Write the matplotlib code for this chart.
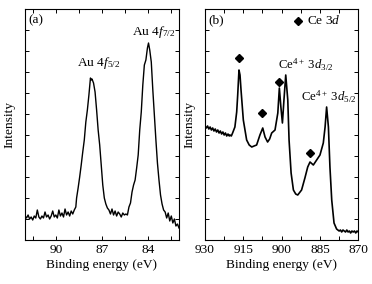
import matplotlib
matplotlib.use("Agg")
import matplotlib.pyplot as plt
from matplotlib.ticker import MultipleLocator, NullFormatter

plt.rcParams['font.family'] = ['Liberation Serif', 'DejaVu Serif']
plt.rcParams['mathtext.fontset'] = 'custom'
plt.rcParams['mathtext.rm'] = 'Liberation Serif'
plt.rcParams['mathtext.it'] = 'Liberation Serif:italic'
plt.rcParams['mathtext.bf'] = 'Liberation Serif:bold'
plt.rcParams['font.size'] = 9.6

# Panel (a): Au 4f
au_energy = [92.0, 91.9, 91.8, 91.7, 91.6, 91.5, 91.4, 91.3, 91.2, 91.1, 91.0, 90.9, 90.8, 90.7,
             90.6, 90.5, 90.4, 90.3, 90.2, 90.1, 90.0, 89.9, 89.8, 89.7, 89.6, 89.5, 89.4, 89.3,
             89.2, 89.1, 89.0, 88.9, 88.8, 88.7, 88.65, 88.55, 88.45, 88.35, 88.25, 88.15, 88.05,
             87.95, 87.85, 87.75, 87.7, 87.65, 87.55, 87.45, 87.35, 87.25, 87.15, 87.05, 86.95,
             86.85, 86.75, 86.65, 86.55, 86.45, 86.35, 86.25, 86.15, 86.05, 85.95, 85.85, 85.75,
             85.65, 85.55, 85.45, 85.35, 85.25, 85.15, 85.05, 84.95, 84.85, 84.75, 84.65, 84.55,
             84.45, 84.35, 84.25, 84.15, 84.05, 83.98, 83.9, 83.8, 83.7, 83.6, 83.5, 83.4, 83.3,
             83.2, 83.1, 83.0, 82.9, 82.8, 82.7, 82.6, 82.5, 82.4, 82.3, 82.2, 82.1, 82.0]
au_intensity = [24, 22, 25, 21, 23, 20, 24, 22, 30, 23, 21, 24, 22, 28, 23, 25, 21, 24, 29, 23,
                25, 22, 30, 24, 27, 23, 31, 25, 28, 24, 29, 26, 30, 33, 42, 52, 63, 75, 88, 100,
                118, 130, 145, 162, 160, 161, 157, 148, 130, 110, 95, 75, 55, 42, 36, 32, 30, 26,
                31, 25, 29, 24, 28, 26, 23, 27, 25, 26, 25, 33, 37, 48, 55, 60, 72, 85, 110, 128,
                155, 175, 180, 192, 197, 190, 178, 150, 125, 100, 77, 60, 45, 36, 30, 28, 22, 27,
                19, 24, 17, 21, 14, 16, 12]

# Panel (b): Ce 3d
ce_energy = [930.0, 929.5, 929.0, 928.5, 928.0, 927.5, 927.0, 926.5, 926.0, 925.5, 925.0, 924.5,
             924.0, 923.5, 923.0, 922.5, 922.0, 921.5, 921.0, 920.5, 920.2, 919.7, 919.2, 918.3,
             917.6, 917.2, 916.7, 916.3, 915.9, 915.0, 913.7, 912.7, 911.7, 910.8, 909.8, 908.5,
             907.4, 906.5, 905.5, 904.7, 903.9, 902.6, 901.5, 900.9, 900.3, 899.7, 899.1, 898.4,
             897.6, 897.1, 896.3, 895.4, 894.5, 893.7, 892.2, 890.9, 889.8, 888.9, 887.6, 886.3,
             885.0, 883.7, 883.0, 882.4, 881.7, 881.1, 880.4, 879.5, 878.5, 878.0, 877.5, 877.0,
             876.5, 876.0, 875.5, 875.0, 874.5, 874.0, 873.5, 873.0, 872.5, 872.0, 871.5, 871.0,
             870.5, 870.0]
ce_intensity = [114, 112, 114, 111, 113, 110, 112, 109, 111, 108, 110, 107, 109, 106, 108, 105,
                107, 104, 106, 104, 105, 104, 107, 113, 128, 145, 170, 165, 150, 120, 100, 95, 93,
                94, 95, 105, 112, 103, 98, 101, 107, 110, 127, 152, 133, 117, 140, 165, 140, 100,
                67, 50, 46, 45, 50, 62, 73, 78, 75, 80, 85, 97, 113, 133, 113, 73, 40, 17, 11, 10,
                9, 10, 8, 10, 9, 8, 10, 8, 9, 7, 9, 8, 9, 7, 9, 8]

ce_marker_energy = [916.7, 907.6, 901.0, 888.9]
ce_marker_intensity = [182, 127, 158, 87]

fig = plt.figure(figsize=(3.72, 2.84), dpi=100)
ax1 = fig.add_axes([25/372, 44/284, 154/372, 231/284])
ax2 = fig.add_axes([205/372, 44/284, 153.3/372, 231/284])

for ax in (ax1, ax2):
    ax.tick_params(which='both', direction='in', top=True, right=True, length=3, width=0.7,
                   labelsize=9.6, pad=3)
    ax.yaxis.set_major_locator(MultipleLocator(21))
    ax.yaxis.set_major_formatter(NullFormatter())
    ax.set_ylim(0, 231)
    for s in ax.spines.values():
        s.set_linewidth(0.8)
    ax.set_ylabel('Intensity', labelpad=4)
    ax.set_xlabel('Binding energy (eV)', labelpad=2)

ax1.plot(au_energy, au_intensity, color='black', lw=1.0)
ax1.set_xlim(92, 82)
ax1.xaxis.set_minor_locator(MultipleLocator(1.5))
ax1.set_xticks([90, 87, 84])
ax1.text(0.02, 0.95, '(a)', transform=ax1.transAxes, ha='left', va='center')
ax1.text(88.63, 177, r'Au 4$f_{5/2}$', ha='left', va='center')
ax1.text(85.03, 208, r'Au 4$f_{7/2}$', ha='left', va='center')

ax2.plot(ce_energy, ce_intensity, color='black', lw=1.2)
ax2.plot(ce_marker_energy, ce_marker_intensity, 'D', color='black', ms=4.5)
ax2.plot([893.5], [219], 'D', color='black', ms=4.5)
ax2.set_xlim(930, 870)
ax2.xaxis.set_major_locator(MultipleLocator(15))
ax2.xaxis.set_minor_locator(MultipleLocator(7.5))
ax2.text(0.02, 0.95, '(b)', transform=ax2.transAxes, ha='left', va='center')
ax2.text(890.2, 219, r'Ce 3$d$', ha='left', va='center')
ax2.text(901.5, 175, r'Ce$^{4+}$ 3$d_{3/2}$', ha='left', va='center', fontsize=9.2)
ax2.text(892.4, 143, r'Ce$^{4+}$ 3$d_{5/2}$', ha='left', va='center', fontsize=9.2)

fig.savefig('out.png', dpi=100)
